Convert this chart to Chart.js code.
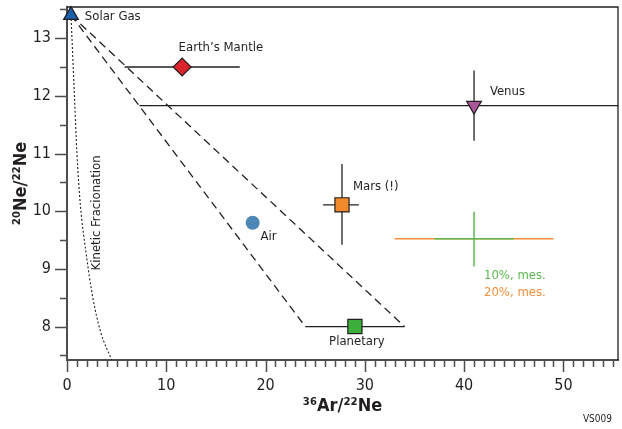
<!DOCTYPE html>
<html>
<head>
<meta charset="utf-8">
<script src="https://cdn.jsdelivr.net/npm/chart.js@4"></script>
<style>
  html, body { margin: 0; padding: 0; background: #fff; }
  #wrap { width: 622px; height: 429px; }
</style>
</head>
<body>
<div id="wrap"><canvas id="chart" width="622" height="429"></canvas></div>
<script>
// --- datos ---
const cuerpos = ['Solar Gas', 'Earth’s Mantle', 'Venus', 'Mars (!)', 'Air', 'Planetary'];
const ar36Ne22 = [0.4, 11.6, 41.0, 27.7, 18.7, 29.0];
const ne20Ne22 = [13.4, 12.5, 11.83, 10.11, 9.8, 8.0];
const arMin = [null, 5.8, 7.3, 25.8, null, 24.0];
const arMax = [null, 17.4, 57, 29.4, null, 34.0];
const neMin = [null, null, 11.22, 9.42, null, null];
const neMax = [null, null, 12.44, 10.82, null, null];

// cruz de incertidumbre de medida
const medidaAr = 41.0;
const medidaNe = 9.52;
const medida10Ar = [37.0, 45.0];
const medida10Ne = [9.04, 9.99];
const medida20Ar = [33.0, 49.0];

// lineas de mezcla (discontinuas) desde el gas solar
const mezclaAr = [24.0, 34.0];
const mezclaNe = [8.0, 8.0];

// fraccionamiento cinetico (punteado)
const cineticoAr = [0.4, 0.5, 0.75, 1.0, 1.35, 1.9, 2.6, 3.4, 4.5];
const cineticoNe = [13.4, 13.0, 12.0, 11.0, 10.1, 9.3, 8.5, 7.9, 7.42];

// ejes
const xMayores = [0, 10, 20, 30, 40, 50];
const yMayores = [8, 9, 10, 11, 12, 13];
const xMin = 0, xMax = 55.5, yMin = 7.42, yMax = 13.54;

// etiquetas en la grafica
const etiquetas = ['Solar Gas', 'Earth’s Mantle', 'Venus', 'Mars (!)', 'Air', 'Planetary', '10%, mes.', '20%, mes.'];
const etiquetaAr = [1.8, 15.5, 42.6, 28.8, 19.5, 29.2, 42.0, 42.0];
const etiquetaNe = [13.38, 12.83, 12.07, 10.42, 9.56, 7.74, 8.88, 8.59];

const FUENTE = "'DejaVu Sans Condensed', 'DejaVu Sans', sans-serif";
const TINTA = '#231f20';
const GRIS_EJE = '#4d4d4f';
const VERDE_MED = '#5cb84f';
const NARANJA_MED = '#f0903c';

const marcadores = [
    { estilo: 'triangle', color: '#1b5ea9', radio: 8.5, rot: 0, borde: 1.2 },
    { estilo: 'rectRot', color: '#d9252b', radio: 9, rot: 0, borde: 1.2 },
    { estilo: 'triangle', color: '#a95797', radio: 8.5, rot: 180, borde: 1.2 },
    { estilo: 'rect', color: '#f08a2c', radio: 10, rot: 0, borde: 1.2 },
    { estilo: 'circle', color: '#4c87b5', radio: 7, rot: 0, borde: 0 },
    { estilo: 'rect', color: '#3cae3a', radio: 10, rot: 0, borde: 1.2 }
];

const linea = (puntos, color, ancho, extra = {}) => Object.assign({
    type: 'line',
    data: puntos,
    borderColor: color,
    borderWidth: ancho,
    pointRadius: 0,
    fill: false,
    order: 2
}, extra);

const datasets = [];

// marcadores encima de todo
cuerpos.forEach((nombre, i) => {
    const m = marcadores[i];
    datasets.push({
        type: 'scatter',
        label: nombre,
        data: [{ x: ar36Ne22[i], y: ne20Ne22[i] }],
        pointStyle: m.estilo,
        pointRadius: m.radio,
        pointHoverRadius: m.radio,
        pointRotation: m.rot,
        backgroundColor: m.color,
        borderColor: TINTA,
        borderWidth: m.borde,
        clip: false,
        order: 0
    });
});

// barras de error
cuerpos.forEach((nombre, i) => {
    if (arMin[i] !== null) {
        datasets.push(linea([{ x: arMin[i], y: ne20Ne22[i] }, { x: arMax[i], y: ne20Ne22[i] }], TINTA, 1.3));
    }
    if (neMin[i] !== null) {
        datasets.push(linea([{ x: ar36Ne22[i], y: neMin[i] }, { x: ar36Ne22[i], y: neMax[i] }], TINTA, 1.3));
    }
});

// mezcla solar -> planetario
mezclaAr.forEach((ar, i) => {
    datasets.push(linea([{ x: ar36Ne22[0], y: ne20Ne22[0] }, { x: ar, y: mezclaNe[i] }], TINTA, 1.3, { borderDash: [8, 5] }));
});

// fraccionamiento cinetico
datasets.push(linea(cineticoAr.map((v, i) => ({ x: v, y: cineticoNe[i] })), TINTA, 1.1, {
    borderDash: [2, 2],
    cubicInterpolationMode: 'monotone'
}));

// cruz de medida (naranja debajo del verde)
datasets.push(linea([{ x: medida20Ar[0], y: medidaNe }, { x: medida20Ar[1], y: medidaNe }], NARANJA_MED, 1.5, { order: 3 }));
datasets.push(linea([{ x: medida10Ar[0], y: medidaNe }, { x: medida10Ar[1], y: medidaNe }], VERDE_MED, 1.5, { order: 1 }));
datasets.push(linea([{ x: medidaAr, y: medida10Ne[0] }, { x: medidaAr, y: medida10Ne[1] }], VERDE_MED, 1.5, { order: 1 }));

const marcasEjes = {
    id: 'marcasEjes',
    afterDraw(chart) {
        const { ctx, chartArea: a, scales: { x, y } } = chart;
        ctx.save();
        // marco superior y derecho
        ctx.strokeStyle = TINTA;
        ctx.lineWidth = 1.3;
        ctx.beginPath();
        ctx.moveTo(a.left, a.top);
        ctx.lineTo(a.right, a.top);
        ctx.lineTo(a.right, a.bottom);
        ctx.stroke();

        ctx.strokeStyle = GRIS_EJE;
        ctx.lineWidth = 1.5;
        ctx.beginPath();
        for (let v = xMin; v <= xMax; v += 1) {
            const px = Math.round(x.getPixelForValue(v)) + 0.5;
            const largo = v % 10 === 0 ? 12 : 7;
            ctx.moveTo(px, a.bottom);
            ctx.lineTo(px, a.bottom + largo);
        }
        for (let v = 7.5; v <= yMax; v += 0.5) {
            const py = Math.round(y.getPixelForValue(v)) + 0.5;
            const largo = v % 1 === 0 ? 12 : 7;
            ctx.moveTo(a.left, py);
            ctx.lineTo(a.left - largo, py);
        }
        ctx.stroke();

        // codigo de figura
        ctx.fillStyle = TINTA;
        ctx.font = '10px ' + FUENTE;
        ctx.textAlign = 'right';
        ctx.textBaseline = 'middle';
        ctx.fillText('VS009', 612, 419);
        ctx.restore();
    }
};

const textos = {
    id: 'textos',
    afterDatasetsDraw(chart) {
        const { ctx, scales: { x, y } } = chart;
        ctx.save();
        ctx.font = '13px ' + FUENTE;
        ctx.textBaseline = 'middle';
        etiquetas.forEach((t, i) => {
            ctx.fillStyle = t.startsWith('10%') ? VERDE_MED : t.startsWith('20%') ? NARANJA_MED : TINTA;
            ctx.textAlign = (t === 'Earth’s Mantle' || t === 'Planetary') ? 'center' : 'left';
            ctx.fillText(t, x.getPixelForValue(etiquetaAr[i]), y.getPixelForValue(etiquetaNe[i]));
        });
        // etiqueta girada de la curva cinetica
        ctx.fillStyle = TINTA;
        ctx.translate(x.getPixelForValue(3.0), y.getPixelForValue(9.97));
        ctx.rotate(-Math.PI / 2);
        ctx.textAlign = 'center';
        ctx.fillText('Kinetic Fracionation', 0, 0);
        ctx.restore();
    }
};

const chart = new Chart(document.getElementById('chart'), {
    type: 'scatter',
    data: { datasets },
    options: {
        responsive: false,
        animation: false,
        events: [],
        layout: { autoPadding: false, padding: { left: 0, top: 7, right: 4, bottom: 0 } },
        plugins: {
            legend: { display: false },
            tooltip: { enabled: false }
        },
        scales: {
            x: {
                type: 'linear',
                min: xMin,
                max: xMax,
                afterBuildTicks: s => { s.ticks = xMayores.map(v => ({ value: v })); },
                afterFit: s => { s.height = 69; s.paddingLeft = 0; s.paddingRight = 0; },
                grid: { display: false },
                border: { display: true, color: GRIS_EJE, width: 2 },
                ticks: {
                    color: TINTA,
                    padding: 8,
                    maxRotation: 0,
                    font: { family: FUENTE, size: 16 }
                },
                title: {
                    display: true,
                    text: '³⁶Ar/²²Ne',
                    color: TINTA,
                    padding: { top: 0, bottom: 12 },
                    font: { family: FUENTE, size: 18, weight: 'bold' }
                }
            },
            y: {
                type: 'linear',
                min: yMin,
                max: yMax,
                afterBuildTicks: s => { s.ticks = yMayores.map(v => ({ value: v })); },
                afterFit: s => { s.width = 67; s.paddingTop = 0; s.paddingBottom = 0; },
                grid: { display: false },
                border: { display: true, color: GRIS_EJE, width: 2 },
                ticks: {
                    color: TINTA,
                    padding: 8,
                    font: { family: FUENTE, size: 16 }
                },
                title: {
                    display: true,
                    text: '²⁰Ne/²²Ne',
                    color: TINTA,
                    padding: { top: 11, bottom: 0 },
                    font: { family: FUENTE, size: 18, weight: 'bold' }
                }
            }
        }
    },
    plugins: [textos, marcasEjes]
});
</script>
</body>
</html>
